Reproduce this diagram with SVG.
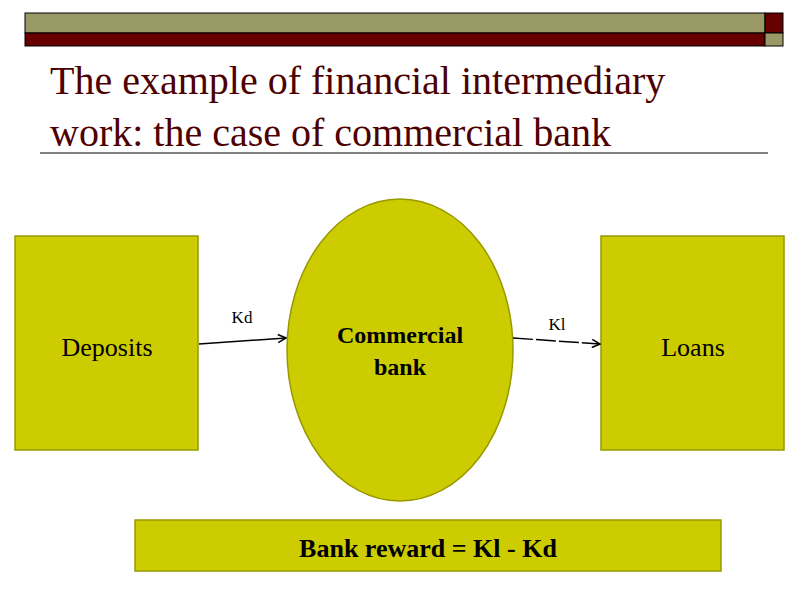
<svg xmlns="http://www.w3.org/2000/svg" width="800" height="600" viewBox="0 0 800 600">
<style>
.sh{fill:#cccc00;stroke:#999900;stroke-width:1.5}
.t{font-family:"Liberation Serif",serif;fill:#000}
.ln{stroke:#000;stroke-width:1.5;fill:none}
</style>
<defs><marker id="a" markerWidth="10" markerHeight="10" refX="9" refY="5" orient="auto" markerUnits="userSpaceOnUse"><path d="M1,1 L9,5 L1,9" fill="none" stroke="#000" stroke-width="1.5"/></marker></defs>
<rect width="800" height="600" fill="#fff"/>
<g id="header">
<rect x="25" y="13" width="740" height="20" fill="#999966" stroke="#000"/>
<rect x="25" y="33" width="740" height="13" fill="#660000" stroke="#000"/>
<rect x="765" y="13" width="18" height="20" fill="#660000" stroke="#000"/>
<rect x="765" y="33" width="18" height="13" fill="#999966" stroke="#000"/>
<text x="50" y="94" font-family="Liberation Serif,serif" font-size="40" fill="#4d0000">The example of financial intermediary</text>
<text x="50" y="146" font-family="Liberation Serif,serif" font-size="40" fill="#4d0000">work: the case of commercial bank</text>
<line x1="40" y1="153" x2="768" y2="153" stroke="#000" stroke-width="1"/>
</g>
<g id="deposits"><rect class="sh" x="15" y="236" width="183" height="214"/><text class="t" x="107" y="356" font-size="26" text-anchor="middle">Deposits</text></g>
<g id="bank"><ellipse class="sh" cx="400" cy="350" rx="113" ry="151"/><text class="t" x="400" y="343" font-size="24" font-weight="bold" text-anchor="middle">Commercial</text><text class="t" x="400" y="375" font-size="24" font-weight="bold" text-anchor="middle">bank</text></g>
<g id="loans"><rect class="sh" x="601" y="236" width="183" height="214"/><text class="t" x="693" y="356" font-size="26" text-anchor="middle">Loans</text></g>
<g id="reward"><rect class="sh" x="135" y="520" width="586" height="51"/><text class="t" x="428" y="557" font-size="26" font-weight="bold" text-anchor="middle">Bank reward  = Kl - Kd</text></g>
<g id="connectors">
<line class="ln" x1="199" y1="344" x2="286" y2="338" marker-end="url(#a)"/>
<line class="ln" x1="513" y1="338" x2="600" y2="344" stroke-dasharray="20,3" marker-end="url(#a)"/>
<text class="t" x="242" y="323" font-size="17" text-anchor="middle">Kd</text>
<text class="t" x="557" y="330" font-size="17" text-anchor="middle">Kl</text>
</g>
</svg>
